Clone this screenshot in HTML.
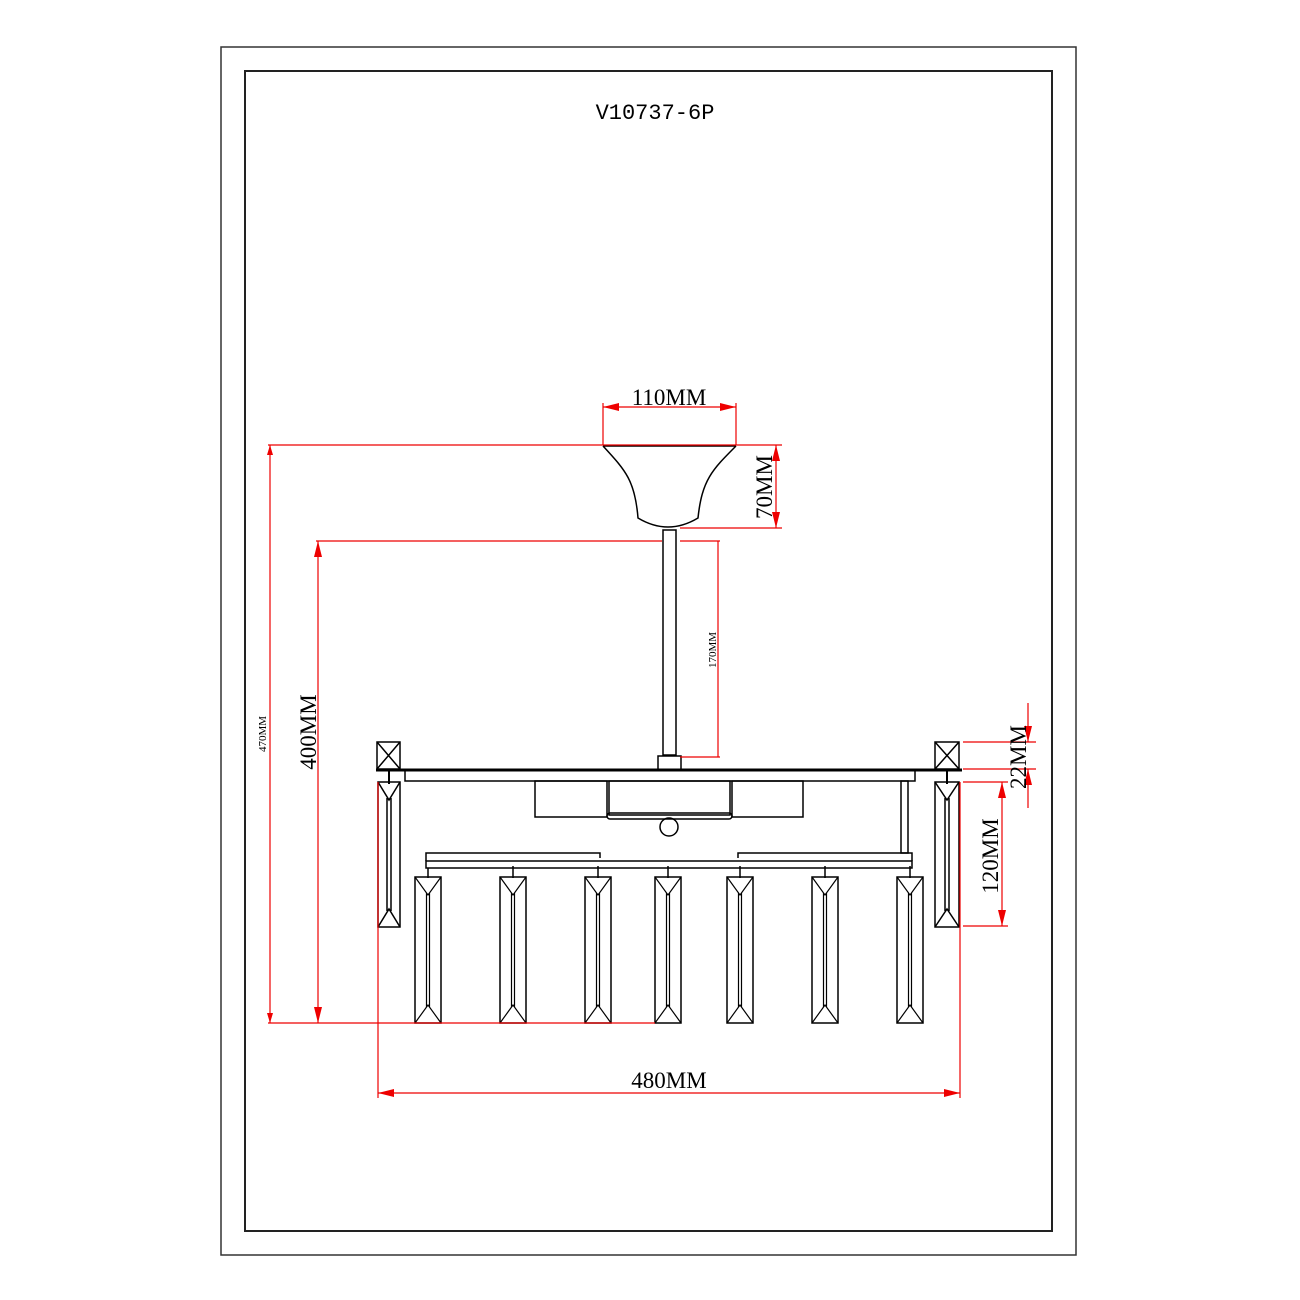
<!DOCTYPE html>
<html><head><meta charset="utf-8"><style>
html,body{margin:0;padding:0;background:#fff;}
svg{display:block;}
text{font-family:"Liberation Serif",serif;}
</style></head><body>
<svg width="1300" height="1300" viewBox="0 0 1300 1300" xmlns="http://www.w3.org/2000/svg">
<defs>
<marker id="a" viewBox="0 0 10 6" refX="10" refY="3" markerWidth="10" markerHeight="6" markerUnits="userSpaceOnUse" orient="auto-start-reverse"><path d="M0,0 L10,3 L0,6 Z" fill="#e00"/></marker>
<marker id="b" viewBox="0 0 16 8" refX="16" refY="4" markerWidth="16" markerHeight="8" markerUnits="userSpaceOnUse" orient="auto-start-reverse"><path d="M0,0 L16,4 L0,8 Z" fill="#e00"/></marker>
<g id="cr">
<rect x="-13" y="0" width="26" height="146" fill="none" stroke="#000" stroke-width="1.5"/>
<path d="M-13,0 L0,18 L13,0 M-13,146 L0,128 L13,146 M-1.5,16 V130 M1.5,16 V130" fill="none" stroke="#000" stroke-width="1.2"/>
</g>
</defs>
<rect x="221" y="47" width="855" height="1208" fill="none" stroke="#333" stroke-width="1.5"/>
<rect x="245" y="71" width="807" height="1160" fill="none" stroke="#222" stroke-width="2"/>
<text x="655" y="119" font-size="22" text-anchor="middle" style="font-family:'Liberation Mono',monospace">V10737-6P</text>

<g stroke="#000" fill="none" stroke-width="1.5">
<line x1="603" y1="446" x2="736" y2="446"/>
<path d="M603,446 C625,470 635,480 638,518 Q668,536 698,518 C702,480 712,470 736,446"/>
<rect x="663" y="530" width="13" height="225"/>
<rect x="658" y="756" width="23" height="14"/>
<line x1="376" y1="770" x2="962" y2="770" stroke-width="3"/>
<rect x="405" y="770" width="510" height="11"/>
<rect x="377" y="742" width="23" height="27"/><path d="M377,742 L400,769 M400,742 L377,769"/>
<rect x="935" y="742" width="24" height="27"/><path d="M935,742 L959,769 M959,742 L935,769"/>
<rect x="535" y="781" width="72" height="36"/>
<rect x="732" y="781" width="71" height="36"/>
<rect x="609" y="781" width="121" height="34"/>
<rect x="607" y="813" width="125" height="6" rx="3"/>
<circle cx="669" cy="827" r="9"/>
<rect x="901" y="781" width="7" height="72"/>
<rect x="426" y="861" width="486" height="7"/>
<path d="M426,861 V853 H600 V858 M738,858 V853 H912 V861"/>
<rect x="378" y="782" width="22" height="145"/>
<path d="M378,782 L389,800 L400,782 M378,927 L389,909 L400,927 M387,798 V911 M391,798 V911"/>
<rect x="935" y="782" width="24" height="145"/>
<path d="M935,782 L947,800 L959,782 M935,927 L947,909 L959,927 M945,798 V911 M949,798 V911"/>
<path d="M389,769 V784 M947,769 V784" stroke-width="2"/>
<path d="M428,868 V878 M513,866 V878 M598,866 V878 M668,866 V878 M740,866 V878 M825,866 V878 M910,866 V878"/>
</g>
<g>
<use href="#cr" x="428" y="877"/><use href="#cr" x="513" y="877"/><use href="#cr" x="598" y="877"/>
<use href="#cr" x="668" y="877"/><use href="#cr" x="740" y="877"/><use href="#cr" x="825" y="877"/><use href="#cr" x="910" y="877"/>
</g>

<g stroke="#e00" stroke-width="1.2" fill="none">
<line x1="603" y1="403" x2="603" y2="445"/><line x1="736" y1="403" x2="736" y2="445"/>
<line x1="603" y1="407" x2="736" y2="407" marker-start="url(#b)" marker-end="url(#b)"/>
<line x1="268" y1="445" x2="782" y2="445"/>
<line x1="680" y1="528" x2="782" y2="528"/>
<line x1="776" y1="445" x2="776" y2="528" marker-start="url(#b)" marker-end="url(#b)"/>
<line x1="270" y1="445" x2="270" y2="1023" marker-start="url(#a)" marker-end="url(#a)"/>
<line x1="316" y1="541" x2="662" y2="541"/>
<line x1="268" y1="1023" x2="655" y2="1023"/>
<line x1="318" y1="541" x2="318" y2="1023" marker-start="url(#b)" marker-end="url(#b)"/>
<line x1="680" y1="541" x2="720" y2="541"/><line x1="680" y1="757" x2="720" y2="757"/>
<line x1="718" y1="541" x2="718" y2="757"/>
<line x1="963" y1="742" x2="1036" y2="742"/><line x1="963" y1="769" x2="1036" y2="769"/>
<line x1="1028" y1="703" x2="1028" y2="742" marker-end="url(#b)"/>
<line x1="1028" y1="808" x2="1028" y2="769" marker-end="url(#b)"/>
<line x1="963" y1="782" x2="1008" y2="782"/><line x1="963" y1="926" x2="1008" y2="926"/>
<line x1="1002" y1="782" x2="1002" y2="926" marker-start="url(#b)" marker-end="url(#b)"/>
<line x1="378" y1="782" x2="378" y2="1098"/><line x1="960" y1="782" x2="960" y2="1098"/>
<line x1="378" y1="1093" x2="960" y2="1093" marker-start="url(#b)" marker-end="url(#b)"/>
</g>
<g fill="#000">
<text x="669" y="405" font-size="23" text-anchor="middle">110MM</text>
<text x="669" y="1088" font-size="23" text-anchor="middle">480MM</text>
<text transform="translate(772,487) rotate(-90)" font-size="23" text-anchor="middle">70MM</text>
<text transform="translate(316,732) rotate(-90)" font-size="23" text-anchor="middle">400MM</text>
<text transform="translate(266,734) rotate(-90)" font-size="11" text-anchor="middle">470MM</text>
<text transform="translate(716,650) rotate(-90)" font-size="11" text-anchor="middle">170MM</text>
<text transform="translate(1026,757) rotate(-90)" font-size="23" text-anchor="middle">22MM</text>
<text transform="translate(998,856) rotate(-90)" font-size="23" text-anchor="middle">120MM</text>
</g>
</svg>
</body></html>
